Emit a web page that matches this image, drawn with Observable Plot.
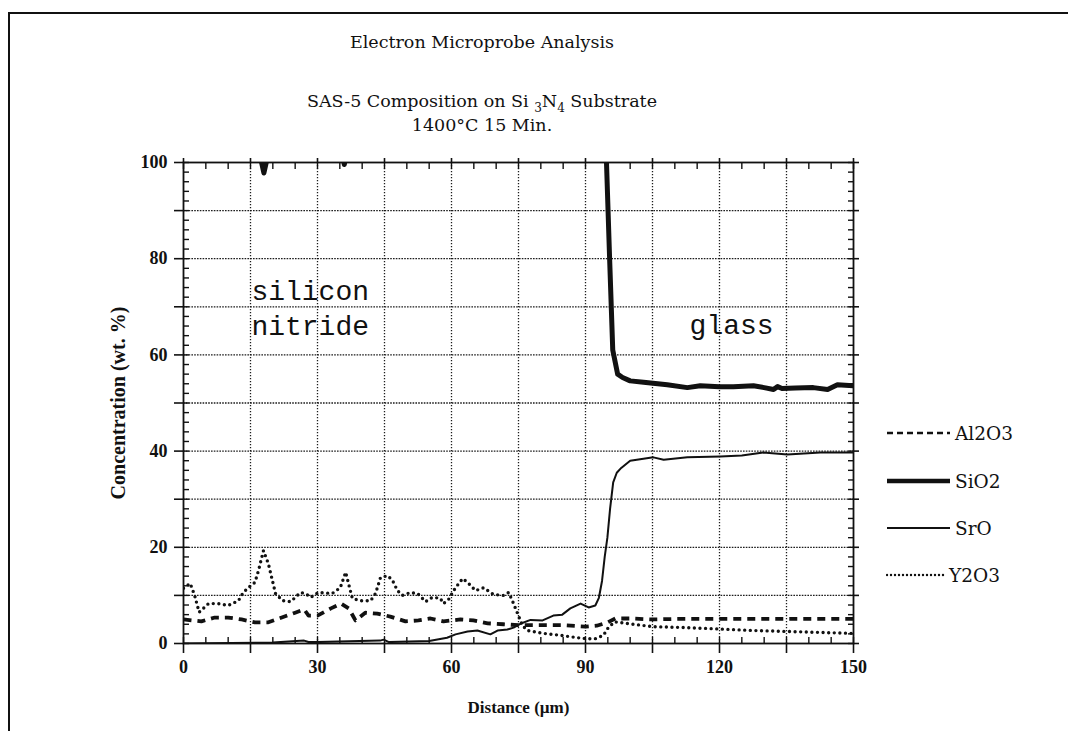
<!DOCTYPE html>
<html>
<head>
<meta charset="utf-8">
<script src="https://cdn.jsdelivr.net/npm/d3@7"></script>
<script src="https://cdn.jsdelivr.net/npm/@observablehq/plot@0.6"></script>
<style>
  html, body { margin: 0; padding: 0; background: #fff; }
  #page { position: relative; width: 1068px; height: 731px; overflow: hidden; background: #fff; }
  #border { position: absolute; left: 8px; top: 12px; width: 1060px; height: 730px; border-top: 2px solid #111; border-left: 2px solid #111; }
  .ttl { position: absolute; left: 0; width: 964px; text-align: center; font-family: "DejaVu Serif", serif; color: #111; white-space: nowrap; }
  #chart { position: absolute; left: 0; top: 140px; }
  .leg { position: absolute; left: 886px; height: 22px; display: flex; align-items: center; font-family: "DejaVu Serif", serif; font-size: 18.5px; color: #111; }
  .leg svg { display: block; margin-right: 3px; }
</style>
</head>
<body>
<div id="page">
  <div id="border"></div>
  <div class="ttl" style="top:32px;font-size:17.5px;">Electron Microprobe Analysis</div>
  <div class="ttl" style="top:91px;font-size:17.5px;">SAS-5 Composition on Si <sub style="font-size:12px;">3</sub>N<sub style="font-size:12px;">4</sub> Substrate</div>
  <div class="ttl" style="top:115px;font-size:17.5px;">1400°C 15 Min.</div>
  <div id="chart"></div>
  <div id="legend"></div>
</div>
<script>
// ---- data ----
const seriesNames = ["Al2O3", "SiO2", "SrO", "Y2O3"];

const al2o3X = [0, 4, 7, 10, 13, 16, 19, 22, 25, 27, 28, 30, 33, 35.3, 37, 38.5, 40.7, 43.4, 46.3, 49.7, 52.6, 55.3, 58.2, 62, 64.9, 68.1, 71.6, 75, 80, 85, 90, 92.5, 95, 96.7, 100, 105, 110, 120, 130, 140, 150];
const al2o3Y = [5, 4.6, 5.4, 5.4, 5, 4.4, 4.4, 5.4, 6.4, 7.1, 5.8, 5.8, 7.3, 8.3, 7.3, 4.8, 6.4, 6.2, 5.6, 4.6, 4.8, 5.2, 4.6, 5, 4.8, 4.2, 4, 3.8, 3.8, 3.8, 3.5, 3.7, 4.4, 5.2, 5.2, 5, 5.1, 5.1, 5.1, 5.1, 5.1];

const sio2X = [0, 17, 18, 19, 35.5, 36, 36.5, 94.2, 94.7, 95.4, 96.1, 97.2, 98.3, 100, 103, 108.3, 112.8, 115.7, 120, 123.1, 127.6, 130, 132.1, 133, 134, 137, 141, 144.2, 146.4, 150];
const sio2Y = [102, 102, 97.8, 102, 102, 99.6, 102, 103, 100, 80, 61, 56, 55.3, 54.6, 54.3, 53.8, 53.2, 53.6, 53.4, 53.4, 53.6, 53.2, 52.8, 53.4, 53, 53.1, 53.2, 52.8, 53.8, 53.6];

const sroX = [0, 20, 27, 28, 30, 44, 44.8, 46, 55, 59, 60.9, 63.6, 65.8, 68.7, 70.3, 72.5, 73.9, 75.4, 77.7, 80.4, 82.8, 84.8, 86.6, 88.9, 90.7, 92.2, 93, 93.7, 94.3, 94.9, 95.5, 96.2, 97, 98, 100, 105.2, 107.5, 112.8, 120.2, 125, 129.8, 135.2, 142.6, 150];
const sroY = [0, 0.2, 0.6, 0.3, 0.3, 0.6, 0.8, 0.3, 0.5, 1.2, 1.9, 2.5, 2.7, 1.9, 2.7, 2.9, 3.3, 4.1, 4.9, 4.8, 5.8, 6, 7.3, 8.3, 7.5, 7.9, 9.5, 13, 18, 22, 28, 33.5, 35.5, 36.5, 38, 38.7, 38.2, 38.7, 38.9, 39.1, 39.7, 39.3, 39.7, 39.7];

const y2o3X = [0, 1.5, 2.5, 3.5, 5.6, 7.8, 10, 12.3, 13.4, 14.5, 16, 16.8, 17.9, 19, 19.9, 20.6, 22.2, 24, 26.2, 27.3, 28.5, 30.2, 33.3, 35.1, 36.3, 37.8, 39.6, 41.9, 43, 44.1, 45.7, 46.8, 47.9, 49, 50.8, 52.4, 54.2, 55.7, 57.5, 58.2, 59.3, 60.9, 62.5, 63.6, 65.4, 67.2, 69.4, 71.6, 72.8, 73.9, 74.8, 75.9, 77, 80.6, 84.4, 88.2, 90.4, 92.2, 94, 95.1, 96.5, 100.7, 105, 112.8, 120.2, 127.6, 135.2, 142.6, 150];
const y2o3Y = [11.5, 12.5, 10, 6.5, 8.3, 8.3, 7.9, 8.9, 10.6, 11.6, 12.7, 15.2, 19.3, 16.6, 13.1, 10.4, 8.9, 8.7, 10.6, 10.4, 9.6, 10.6, 10.4, 11.6, 14.8, 9.4, 8.9, 8.9, 10.4, 13.7, 14.1, 13.1, 11, 10, 10.6, 10.4, 8.7, 9.6, 9.4, 8.3, 9.1, 11.6, 13.5, 12.7, 11, 11.6, 10.2, 10, 10.6, 8.3, 6.2, 3.7, 2.7, 2.1, 1.7, 1.2, 1, 1, 1.7, 3.3, 4.5, 4, 3.5, 3.3, 3, 2.7, 2.5, 2.3, 2.1];

const xTickLabels = [0, 30, 60, 90, 120, 150];
const yTickLabels = [0, 20, 40, 60, 80, 100];

const annotations = [
  {x: 15.2, y: 64.2, text: "silicon\nnitride"},
  {x: 113.3, y: 64.4, text: "glass"}
];

// ---- build rows ----
const toRows = (xs, ys, name) => xs.map((x, i) => ({x, y: ys[i], series: name}));
const al2o3 = toRows(al2o3X, al2o3Y, "Al2O3");
const sio2 = toRows(sio2X, sio2Y, "SiO2");
const sro = toRows(sroX, sroY, "SrO");
const y2o3 = toRows(y2o3X, y2o3Y, "Y2O3");

const styles = {
  "Al2O3": {stroke: "#111", strokeWidth: 3.8, strokeDasharray: "8,6", strokeLinecap: "butt"},
  "SiO2":  {stroke: "#111", strokeWidth: 5, strokeLinecap: "butt"},
  "SrO":   {stroke: "#111", strokeWidth: 2},
  "Y2O3":  {stroke: "#111", strokeWidth: 3.4, strokeDasharray: "0,5.6", strokeLinecap: "round"}
};

const ink = "#111";
const chart = Plot.plot({
  width: 1068,
  height: 591,
  marginTop: 22,
  marginBottom: 88,
  marginLeft: 183,
  marginRight: 215,
  style: {fontFamily: "Liberation Serif, serif", fontSize: "18px", color: ink, background: "transparent"},
  x: {domain: [0, 150]},
  y: {domain: [0, 100]},
  marks: [
    Plot.gridX(d3.range(15, 150, 15), {stroke: ink, strokeOpacity: 0.95, strokeWidth: 1.3, strokeDasharray: "1.3,1.7"}),
    Plot.gridY(d3.range(10, 100, 10), {stroke: ink, strokeOpacity: 0.95, strokeWidth: 1.3, strokeDasharray: "1.6,1.2"}),
    // minor ticks pointing inward
    Plot.axisX(d3.range(0, 151, 5), {anchor: "bottom", tickSize: -6, tickFormat: () => "", label: null, stroke: ink, strokeWidth: 1.4}),
    Plot.axisX(d3.range(0, 151, 5), {anchor: "top", tickSize: -6, tickFormat: () => "", label: null, stroke: ink, strokeWidth: 1.4}),
    Plot.axisY(d3.range(0, 101, 2), {anchor: "left", tickSize: -6, tickFormat: () => "", label: null, stroke: ink, strokeWidth: 1.4}),
    Plot.axisY(d3.range(0, 101, 2), {anchor: "right", tickSize: -6, tickFormat: () => "", label: null, stroke: ink, strokeWidth: 1.4}),
    // major ticks crossing outward
    Plot.axisX(d3.range(0, 151, 15), {anchor: "bottom", tickSize: 10, tickPadding: 7, tickFormat: d => xTickLabels.includes(d) ? String(d) : "", label: null, stroke: ink, strokeWidth: 1.6, fill: ink, fontWeight: "bold"}),
    Plot.axisX(d3.range(0, 151, 15), {anchor: "top", tickSize: 5, tickFormat: () => "", label: null, stroke: ink, strokeWidth: 1.6}),
    Plot.axisY(d3.range(0, 101, 10), {anchor: "left", tickSize: 9, tickPadding: 7, tickFormat: d => yTickLabels.includes(d) ? String(d) : "", label: null, stroke: ink, strokeWidth: 1.6, fill: ink, fontWeight: "bold"}),
    Plot.axisY(d3.range(0, 101, 10), {anchor: "right", tickSize: 5, tickFormat: () => "", label: null, stroke: ink, strokeWidth: 1.6}),
    Plot.frame({stroke: ink, strokeWidth: 1.8}),
    // series
    Plot.line(al2o3, {x: "x", y: "y", ...styles["Al2O3"], clip: true}),
    Plot.line(sro, {x: "x", y: "y", ...styles["SrO"], clip: true}),
    Plot.line(y2o3, {x: "x", y: "y", ...styles["Y2O3"], clip: true}),
    Plot.line(sio2, {x: "x", y: "y", ...styles["SiO2"], clip: true}),
    // annotations
    Plot.text(annotations, {x: "x", y: "y", text: "text", textAnchor: "start", lineAnchor: "bottom", fontFamily: "Liberation Mono, monospace", fontSize: 28, lineHeight: 1.25, fill: ink}),
    // axis titles
    Plot.text(["Distance (µm)"], {frameAnchor: "bottom", dy: 69, textAnchor: "middle", fontWeight: "bold", fontSize: 17, fill: ink}),
    Plot.text(["Concentration (wt. %)"], {frameAnchor: "left", dx: -65, rotate: -90, textAnchor: "middle", fontWeight: "bold", fontSize: 20, fill: ink})
  ]
});
document.getElementById("chart").appendChild(chart);

// ---- legend ----
const legendTops = {"Al2O3": 422, "SiO2": 470, "SrO": 517, "Y2O3": 564};
const legend = document.getElementById("legend");
for (const name of seriesNames) {
  const s = styles[name];
  const row = document.createElement("div");
  row.className = "leg";
  row.style.top = legendTops[name] + "px";
  const lw = name === "Y2O3" ? 58 : 64;
  const sw = name === "SiO2" ? 4.5 : name === "SrO" ? 1.8 : 2.4;
  const dash = name === "Al2O3" ? "6,4" : name === "Y2O3" ? "0,4" : null;
  const cap = name === "Y2O3" ? "round" : "butt";
  row.innerHTML = `<svg width="${lw + 2}" height="12"><line x1="1" y1="6" x2="${lw}" y2="6" stroke="${ink}" stroke-width="${sw}" ${dash ? `stroke-dasharray="${dash}"` : ""} stroke-linecap="${cap}"/></svg><span>${name}</span>`;
  legend.appendChild(row);
}
</script>
</body>
</html>
